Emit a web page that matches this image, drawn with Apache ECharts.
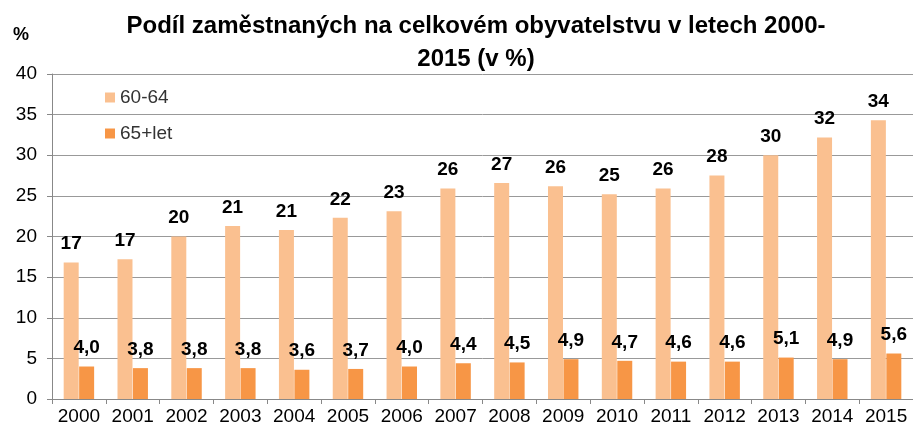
<!DOCTYPE html>
<html>
<head>
<meta charset="utf-8">
<script src="https://cdn.jsdelivr.net/npm/echarts@6/dist/echarts.min.js"></script>
<style>
  html, body { margin: 0; padding: 0; background: #fff; }
  #main { width: 913px; height: 435px; }
</style>
</head>
<body>
<div id="main"></div>
<script>
const years = ['2000', '2001', '2002', '2003', '2004', '2005', '2006', '2007',
  '2008', '2009', '2010', '2011', '2012', '2013', '2014', '2015']
// podíl zaměstnaných 60-64
const age6064 = [16.8, 17.2, 20.0, 21.3, 20.8, 22.3, 23.1, 25.9, 26.6, 26.2, 25.2, 25.9, 27.5, 30.0, 32.2, 34.3]
// podíl zaměstnaných 65+
const age65 = [4.0, 3.8, 3.8, 3.8, 3.6, 3.7, 4.0, 4.4, 4.5, 4.9, 4.7, 4.6, 4.6, 5.1, 4.9, 5.6]
const yTicks = [0, 5, 10, 15, 20, 25, 30, 35, 40]

const font = 'Liberation Sans, Arial, sans-serif'
const chart = echarts.init(document.getElementById('main'))

chart.setOption({
  animation: false,
  textStyle: { fontFamily: font },
  title: [
    {
      text: 'Podíl zaměstnaných na celkovém obyvatelstvu v letech 2000-\n2015 (v %)',
      left: 471,
      top: 5,
      textAlign: 'center',
      textStyle: { fontFamily: font, fontSize: 24, fontWeight: 'bold', color: '#000', lineHeight: 33 }
    },
    {
      text: '%',
      left: 8,
      top: 21,
      textStyle: { fontFamily: font, fontSize: 18, fontWeight: 'bold', color: '#000' }
    }
  ],
  legend: {
    orient: 'vertical',
    left: 100,
    top: 83,
    itemWidth: 10,
    itemHeight: 10,
    itemGap: 17,
    icon: 'rect',
    textStyle: { fontFamily: font, fontSize: 19, color: '#333' },
    data: ['60-64', '65+let']
  },
  grid: { left: 52, right: -2, top: 74, bottom: 36 },
  xAxis: {
    type: 'category',
    data: years,
    axisLine: { lineStyle: { color: '#888', width: 1 } },
    axisTick: { show: true, length: 5, lineStyle: { color: '#888' } },
    axisLabel: { color: '#000', fontSize: 19, margin: 8, interval: 0 }
  },
  yAxis: {
    type: 'value',
    min: yTicks[0],
    max: yTicks[yTicks.length - 1],
    interval: 5,
    axisLine: { show: true, lineStyle: { color: '#888', width: 1 } },
    axisTick: { show: true, length: 5, lineStyle: { color: '#888' } },
    axisLabel: { color: '#000', fontSize: 19, margin: 15 },
    splitLine: { lineStyle: { color: '#999', width: 1 } }
  },
  series: [
    {
      name: '60-64',
      type: 'bar',
      data: age6064,
      barWidth: 15,
      barGap: '3%',
      itemStyle: { color: '#FAC090' },
      label: {
        show: true,
        position: 'top',
        distance: 9,
        fontFamily: font,
        fontSize: 19,
        fontWeight: 'bold',
        color: '#000',
        formatter: p => String(Math.round(p.value))
      }
    },
    {
      name: '65+let',
      type: 'bar',
      data: age65,
      barWidth: 15,
      itemStyle: { color: '#F79646' },
      label: {
        show: true,
        position: 'top',
        distance: 9,
        fontFamily: font,
        fontSize: 19,
        fontWeight: 'bold',
        color: '#000',
        formatter: p => p.value.toFixed(1).replace('.', ',')
      }
    }
  ]
})
</script>
</body>
</html>
